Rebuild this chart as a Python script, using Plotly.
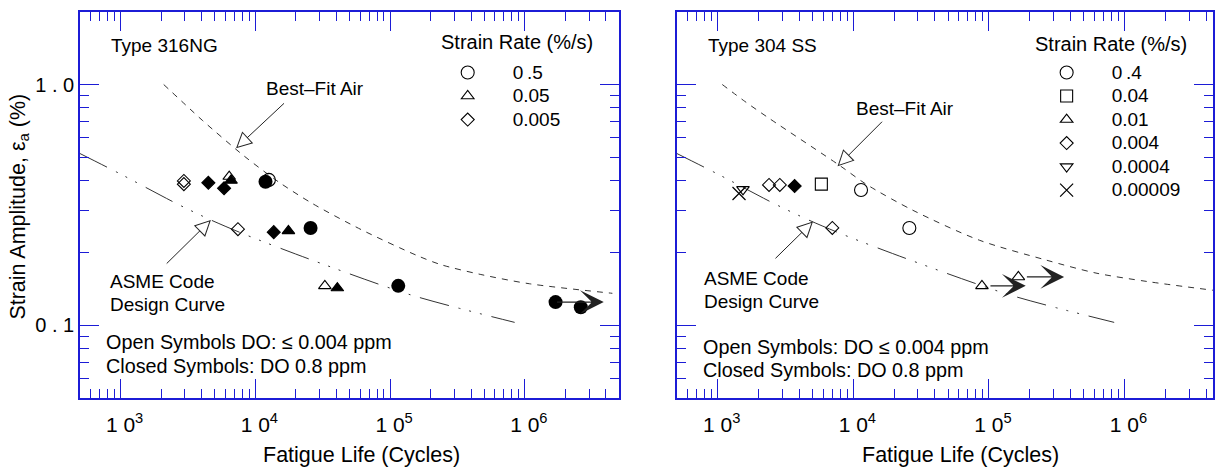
import numpy as np
import plotly.graph_objects as go

# ---------------- data: Type 316NG (left panel) ----------------
# open symbols: DO <= 0.004 ppm
ng_circle_open_n = [12600]
ng_circle_open_e = [0.402]
ng_tri_open_n = [6400, 32800]
ng_tri_open_e = [0.415, 0.146]
ng_dia_open_n = [2950, 2950, 7430]
ng_dia_open_e = [0.398, 0.386, 0.251]
# closed symbols: DO 0.8 ppm
ng_circle_n = [11900, 25700, 115000, 1690000, 2600000]
ng_circle_e = [0.395, 0.254, 0.146, 0.125, 0.119]
ng_tri_n = [6600, 17600, 40600]
ng_tri_e = [0.400, 0.247, 0.143]
ng_dia_n = [4480, 5860, 13700]
ng_dia_e = [0.391, 0.371, 0.244]
# run-out (test stopped without failure)
ng_runout_n = [1690000]
ng_runout_e = [0.125]
ng_runout_to = [3850000]

# ---------------- data: Type 304 SS (right panel) ----------------
ss_circle_n = [11400, 25900]
ss_circle_e = [0.365, 0.254]
ss_square_n = [5810]
ss_square_e = [0.386]
ss_tri_n = [88900, 165000]
ss_tri_e = [0.146, 0.159]
ss_dia_n = [2390, 2870, 7000]
ss_dia_e = [0.383, 0.383, 0.254]
ss_tridown_n = [1535]
ss_tridown_e = [0.367]
ss_x_n = [1435]
ss_x_e = [0.353]
ss_dia_closed_n = [3690]
ss_dia_closed_e = [0.379]
ss_runout_n = [88900, 165000]
ss_runout_e = [0.146, 0.159]
ss_runout_to = [187000, 359000]

# ---------------- curves ----------------
air316_n = [2090, 3240, 4070, 8220, 14900, 26200, 61000, 159000, 237000, 466000, 1080000, 4460000]
air316_e = [1.00, 0.796, 0.708, 0.506, 0.394, 0.322, 0.250, 0.195, 0.179, 0.163, 0.149, 0.136]
air304_n = [1080, 1580, 2420, 7900, 12500, 27400, 84900, 263000, 617000, 1500000, 4500000]
air304_e = [1.00, 0.852, 0.721, 0.462, 0.385, 0.301, 0.226, 0.187, 0.165, 0.152, 0.140]
asme_n = [500, 1000, 2590, 4680, 8470, 26200, 142000, 840000]
asme_e = [0.517, 0.425, 0.321, 0.274, 0.238, 0.187, 0.134, 0.103]

# strain-rate keys
ng_rates = ["0\u2009.5", "0.05", "0.005"]
ss_rates = ["0\u2009.4", "0.04", "0.01", "0.004", "0.0004", "0.00009"]

# axis ticks
x_major = [1e3, 1e4, 1e5, 1e6]
x_major_text = ["1 0<sup>3</sup>", "1 0<sup>4</sup>", "1 0<sup>5</sup>", "1 0<sup>6</sup>"]
x_minor = [k * 10.0 ** e for e in range(2, 7) for k in range(2, 10)]
y_major = [0.1, 1.0]
y_major_text = ["0 . 1", "1 . 0"]
y_minor = [k * 10.0 ** e for e in (-2, -1, 0) for k in range(2, 10)]

# ---------------- layout geometry ----------------
FONT = "Liberation Sans, Arial, Helvetica, sans-serif"
BLUE = "#1c1cd6"
INK = "#000000"
CURVE = "#333333"
W, H = 1215, 469
PL, PT, PR, PB = 80, 12, 0, 71
PW, PH = W - PL - PR, H - PT - PB


def px(x):
    return (x - PL) / PW


def py(y):
    return (PT + PH - y) / PH


fig = go.Figure()


def pts(n, e, symbol, size, xa, ya, name=None, legend=None, width=1.1):
    fig.add_trace(go.Scatter(
        x=n, y=e, mode="markers", xaxis=xa, yaxis=ya,
        name=name or "", showlegend=name is not None,
        legend=legend or "legend",
        marker=dict(symbol=symbol, size=size, color=INK,
                    line=dict(color=INK, width=width)),
        hoverinfo="skip"))


def curve(n, e, xa, ya, dash):
    fig.add_trace(go.Scatter(
        x=n, y=e, mode="lines", xaxis=xa, yaxis=ya, showlegend=False,
        line=dict(color=CURVE, width=1, dash=dash, shape="spline", smoothing=0.8),
        hoverinfo="skip"))


DASH_AIR = "6px,6px"
DASH_ASME = "30px,10px,2px,9px,2px,9px,2px,10px"

# left panel
curve(air316_n, air316_e, "x", "y", DASH_AIR)
curve(asme_n, asme_e, "x", "y", DASH_ASME)
pts(ng_circle_open_n, ng_circle_open_e, "circle-open", 13, "x", "y", ng_rates[0], "legend")
pts(ng_tri_open_n, ng_tri_open_e, "triangle-up-open", 11, "x", "y", ng_rates[1], "legend")
pts(ng_dia_open_n, ng_dia_open_e, "diamond-open", 10, "x", "y", ng_rates[2], "legend")
pts(ng_circle_n, ng_circle_e, "circle", 14, "x", "y", width=0)
pts(ng_tri_n, ng_tri_e, "triangle-up", 11, "x", "y")
pts(ng_dia_n, ng_dia_e, "diamond", 10, "x", "y")

# right panel
curve(air304_n, air304_e, "x2", "y2", DASH_AIR)
curve(asme_n, asme_e, "x2", "y2", DASH_ASME)
pts(ss_circle_n, ss_circle_e, "circle-open", 13, "x2", "y2", ss_rates[0], "legend2")
pts(ss_square_n, ss_square_e, "square-open", 12, "x2", "y2", ss_rates[1], "legend2")
pts(ss_tri_n, ss_tri_e, "triangle-up-open", 11, "x2", "y2", ss_rates[2], "legend2")
pts(ss_dia_n, ss_dia_e, "diamond-open", 10, "x2", "y2", ss_rates[3], "legend2")
pts(ss_tridown_n, ss_tridown_e, "triangle-down-open", 11, "x2", "y2", ss_rates[4], "legend2")
pts(ss_x_n, ss_x_e, "x-thin-open", 13, "x2", "y2", ss_rates[5], "legend2", width=1.2)
pts(ss_dia_closed_n, ss_dia_closed_e, "diamond", 10, "x2", "y2")


def xaxis_cfg(domain, rng, anchor):
    return dict(
        domain=domain, type="log", range=rng, anchor=anchor,
        showline=True, linecolor=BLUE, linewidth=1.5, mirror="ticks",
        ticks="inside", ticklen=19, tickwidth=1.2, tickcolor=BLUE,
        tickmode="array", tickvals=x_major, ticktext=x_major_text,
        tickfont=dict(family=FONT, size=21, color=INK),
        ticklabelstandoff=7, ticklabelshift=4,
        showgrid=False, zeroline=False,
        minor=dict(ticks="inside", ticklen=9, tickwidth=1.2, tickcolor=BLUE,
                   tickmode="array", tickvals=x_minor, showgrid=False))


def yaxis_cfg(anchor, labels):
    return dict(
        domain=[0, 1], type="log", range=[np.log10(0.05), np.log10(2.0)], anchor=anchor,
        showline=True, linecolor=BLUE, linewidth=1.5, mirror="ticks",
        ticks="inside", ticklen=19, tickwidth=1.2, tickcolor=BLUE,
        tickmode="array", tickvals=y_major, ticktext=y_major_text,
        showticklabels=labels,
        tickfont=dict(family=FONT, size=20, color=INK),
        showgrid=False, zeroline=False,
        minor=dict(ticks="inside", ticklen=9, tickwidth=1.2, tickcolor=BLUE,
                   tickmode="array", tickvals=y_minor, showgrid=False))


right_end = np.log10(500) + (1215 - 678) / 135.8

ann = []


def label(text, x, y, xanchor="left", size=19, angle=0):
    ann.append(dict(text=text, x=px(x), y=py(y), xref="paper", yref="paper",
                    xanchor=xanchor, yanchor="middle", showarrow=False, textangle=angle,
                    font=dict(family=FONT, size=size, color=INK)))


def hollow_arrow(xr, yr, n, e, ax, ay):
    # outlined head: a black head with a smaller white head laid inside it
    k1, t = 3.2, 1.0
    k2 = k1 - t / 1.545
    d = 2.236 * t
    L = float(np.hypot(ax, ay))
    ux, uy = ax / L, ay / L
    base = dict(x=np.log10(n), y=np.log10(e), xref=xr, yref=yr, text="", showarrow=True,
                arrowhead=2, arrowwidth=1)
    ann.append(dict(base, ax=ax, ay=ay, arrowsize=k1, arrowcolor="#222222"))
    ann.append(dict(base, ax=ux * 12, ay=uy * 12, arrowsize=k2, arrowcolor="white", standoff=d))


def runout(xr, yr, n0, e0, n1, startoff=0):
    ann.append(dict(x=np.log10(n1), y=np.log10(e0), ax=np.log10(n0), ay=np.log10(e0),
                    xref=xr, yref=yr, axref=xr, ayref=yr, text="", showarrow=True,
                    arrowhead=3, arrowsize=3.3, arrowwidth=1.2, arrowcolor="#222222",
                    startstandoff=startoff))


# panel texts
label("Type 316NG", 108.7, 45.7)
label("Type 304 SS", 707.3, 45.7)
label("Strain Rate (%/s)", 440, 42, size=20)
label("Strain Rate (%/s)", 1035, 44, size=20)
label("Best\u2013Fit Air", 315, 88, "center")
label("Best\u2013Fit Air", 906, 108, "center")
label("ASME Code", 108, 281.7)
label("Design Curve", 108, 304.5)
label("ASME Code", 703.3, 278.3)
label("Design Curve", 703.3, 301.7)
label("Open Symbols DO: \u2264 0.004 ppm", 103.6, 341.7, size=19.8)
label("Closed Symbols: DO 0.8 ppm", 103.6, 366, size=19.8)
label("Open Symbols: DO \u2264 0.004 ppm", 701.6, 346.7, size=19.8)
label("Closed Symbols: DO 0.8 ppm", 701.6, 370, size=19.8)
label("Fatigue Life (Cycles)", 361.7, 455, "center", size=21.5)
label("Fatigue Life (Cycles)", 962.5, 455, "center", size=21.5)
label("Strain Amplitude, \u03b5<sub>a</sub> (%)", 18.5, 207, "center", size=21.5, angle=-90)

# pointer arrows to the curves
hollow_arrow("x", "y", 7190, 0.544, 49.5, -46.3)
hollow_arrow("x", "y", 4680, 0.274, -45.7, 45.0)
hollow_arrow("x2", "y2", 7650, 0.458, 46.0, -46.0)
hollow_arrow("x2", "y2", 5040, 0.270, -39.0, 38.3)

# run-out arrows
for n0, e0, n1 in zip(ng_runout_n, ng_runout_e, ng_runout_to):
    runout("x", "y", n0, e0, n1)
for n0, e0, n1 in zip(ss_runout_n, ss_runout_e, ss_runout_to):
    runout("x2", "y2", n0, e0, n1, startoff=7)

legend_common = dict(
    xref="paper", yref="paper", xanchor="left", yanchor="top",
    bgcolor="rgba(0,0,0,0)", borderwidth=0, itemwidth=80,
    font=dict(family=FONT, size=15.8, color=INK), traceorder="normal",
    itemclick=False, itemdoubleclick=False)

# larger legend text within compact rows
for tr in fig.data:
    if tr.showlegend:
        tr.name = '<span style="font-size:19px">' + tr.name + "</span>"

fig.update_layout(
    width=W, height=H, autosize=False,
    margin=dict(l=PL, r=PR, t=PT, b=PB, pad=0),
    paper_bgcolor="white", plot_bgcolor="white",
    font=dict(family=FONT, size=19, color=INK),
    showlegend=True,
    xaxis=xaxis_cfg([px(80), px(620)], [np.log10(500), np.log10(5e6)], "y"),
    yaxis=yaxis_cfg("x", True),
    xaxis2=xaxis_cfg([px(678), 1.0], [np.log10(500), right_end], "y2"),
    yaxis2=yaxis_cfg("x2", False),
    legend=dict(legend_common, x=px(423.3), y=py(55.7)),
    legend2=dict(legend_common, x=px(1023.3), y=py(55.7)),
    annotations=ann,
)

fig.write_html("out.html")
